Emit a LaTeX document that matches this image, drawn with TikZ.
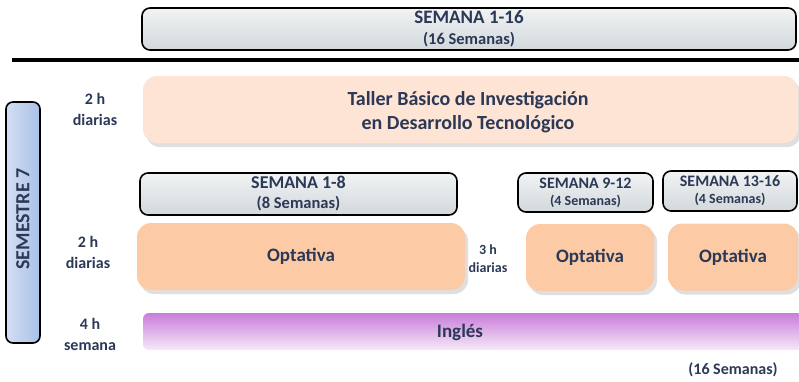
\documentclass[tikz,border=0pt]{standalone}
\usepackage{fontspec}
\setmainfont{Carlito}
\usetikzlibrary{shadows}
\definecolor{txt}{HTML}{2B3856}
\definecolor{greytop}{HTML}{F1F3F4}
\definecolor{greybot}{HTML}{D2D8DB}
\definecolor{peachlight}{HTML}{FDE4D5}
\definecolor{peach}{HTML}{FCCBA6}
\definecolor{purpletop}{HTML}{C87DDA}
\definecolor{purplebot}{HTML}{F6E9F8}
\definecolor{blueleft}{HTML}{D3DFF3}
\definecolor{blueright}{HTML}{A9C0E6}
\tikzset{week/.style={draw, line width=1.6pt, rounded corners=8pt, top color=greytop, bottom color=greybot, inner sep=0pt, align=center, text=txt},
    subject/.style={rounded corners=14pt, inner sep=0pt, align=center, text=txt, font=\fontsize{19}{24}\selectfont\bfseries, drop shadow={shadow xshift=3pt, shadow yshift=-4pt, opacity=.25}},
    hours/.style={align=center, text=txt, inner sep=0pt, font=\fontsize{16}{21}\selectfont\bfseries}}

\begin{document}
\begin{tikzpicture}[x=1pt,y=-1pt]
    \useasboundingbox (0,0) rectangle (799,381);
    % semanas
    \node[week, font=\fontsize{19}{21}\selectfont\bfseries, minimum width=654pt, minimum height=42pt] (s116) at (469,29) {SEMANA 1-16\\{\fontsize{16.5}{21}\selectfont (16 Semanas)}};
    \draw[line width=4pt] (12,60) -- (799,60);
    \node[week, font=\fontsize{18}{20}\selectfont\bfseries, minimum width=317pt, minimum height=42pt] (s18) at (298.5,194) {SEMANA 1-8\\{\fontsize{16.5}{20}\selectfont (8 Semanas)}};
    \node[week, font=\fontsize{16}{17}\selectfont\bfseries, minimum width=135pt, minimum height=39pt] (s912) at (585.5,192.5) {SEMANA 9-12\\{\fontsize{14}{17}\selectfont (4 Semanas)}};
    \node[week, font=\fontsize{16}{17}\selectfont\bfseries, minimum width=134pt, minimum height=40pt] (s1316) at (730,191) {SEMANA 13-16\\{\fontsize{14}{17}\selectfont (4 Semanas)}};
    % semestre
    \node[draw, line width=1.6pt, rounded corners=7pt, left color=blueleft, right color=blueright, minimum width=34pt, minimum height=241pt, inner sep=0pt] (sem) at (23,222.5) {};
    \node[rotate=90, text=txt, font=\fontsize{20}{22}\selectfont\bfseries] (semtxt) at (23,219) {SEMESTRE 7};
    % materias
    \node[subject, fill=peachlight, minimum width=655pt, minimum height=67pt] (taller) at (470.5,109.5) {};
    \node[align=center, text=txt, font=\fontsize{20}{24}\selectfont\bfseries] (tallertxt) at (468,112) {Taller Básico de Investigación\\en Desarrollo Tecnológico};
    \node[subject, fill=peach, minimum width=328pt, minimum height=67pt] (opt1) at (301,256.5) {Optativa};
    \node[subject, fill=peach, minimum width=128pt, minimum height=67pt] (opt2) at (590,257.5) {Optativa};
    \node[subject, fill=peach, minimum width=130pt, minimum height=67pt] (opt3) at (733,257) {Optativa};
    \node[rounded corners=6pt, top color=purpletop, bottom color=purplebot, minimum width=660pt, minimum height=37pt, inner sep=0pt] (ingles) at (473,331.5) {};
    \node[text=txt, font=\fontsize{19}{21}\selectfont\bfseries] (inglestxt) at (460,332) {Inglés};
    % horas
    \node[hours] (h1) at (95,109) {2 h\\diarias};
    \node[hours] (h2) at (88,252) {2 h\\diarias};
    \node[hours, font=\fontsize{14}{18}\selectfont\bfseries] (h3) at (488,259) {3 h\\diarias};
    \node[hours] (h4) at (90,334) {4 h\\semana};
    \node[hours] (total) at (733,370) {(16 Semanas)};
\end{tikzpicture}
\end{document}
